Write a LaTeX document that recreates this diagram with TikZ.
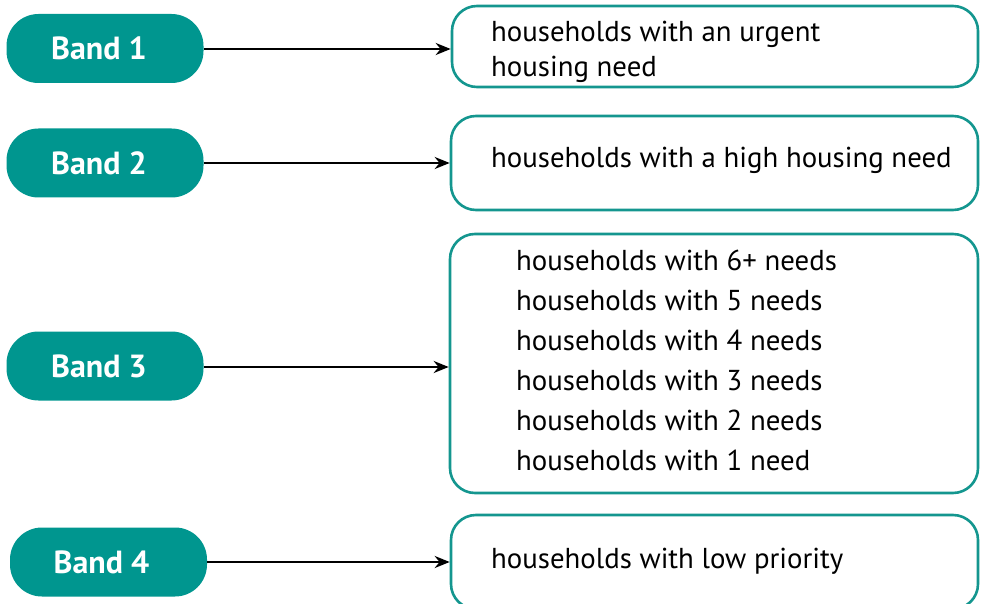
\documentclass[tikz,border=0pt]{standalone}
\usepackage{fontspec}
\setmainfont{PT Sans}
\usetikzlibrary{arrows.meta}
\definecolor{teal1}{RGB}{0,150,143}
\definecolor{teal2}{RGB}{20,150,143}
\tikzset{
  band/.style={fill=teal1, draw=none, rounded corners=32pt, minimum width=197pt, minimum height=69pt, inner sep=0pt, text=white, font=\fontsize{32}{36}\selectfont\bfseries, text depth=0pt, text height=23pt},
  box/.style={draw=teal2, line width=2.6pt, rounded corners=25pt, inner sep=0pt},
  txt/.style={anchor=base west, inner sep=0pt, font=\fontsize{28.8}{32}\selectfont},
  conn/.style={line width=2.4pt, -{Stealth[length=15pt,width=12pt]}}
}
\begin{document}
\begin{tikzpicture}[x=1pt,y=-1pt]
\useasboundingbox (0,0) rectangle (982,604);
% left pills
\node[band] (b1) at (105,48.5) {\hspace*{-12pt}Band 1};
\node[band] (b2) at (105,163) {\hspace*{-12pt}Band 2};
\node[band] (b3) at (105,366) {\hspace*{-12pt}Band 3};
\node[band] (b4) at (108.5,562) {\hspace*{-14pt}Band 4};
% right boxes
\node[box, minimum width=526pt, minimum height=81pt] (r1) at (715,46.5) {};
\node[box, minimum width=527pt, minimum height=94pt] (r2) at (714.5,163) {};
\node[box, minimum width=528pt, minimum height=259pt] (r3) at (714,363.5) {};
\node[box, minimum width=527pt, minimum height=94pt] (r4) at (714.5,562) {};
% texts
\node[txt] (t1a) at (491,42) {households with an urgent};
\node[txt] (t1b) at (491,77) {housing need};
\node[txt] (t2) at (491,168) {households with a high housing need};
\node[txt] (t3a) at (516,270) {households with 6+ needs};
\node[txt] (t3b) at (516,310) {households with 5 needs};
\node[txt] (t3c) at (516,350) {households with 4 needs};
\node[txt] (t3d) at (516,390) {households with 3 needs};
\node[txt] (t3e) at (516,430) {households with 2 needs};
\node[txt] (t3f) at (516,470) {households with 1 need};
\node[txt] (t4) at (491,568) {households with low priority};
% connectors
\draw[conn] (b1.east |- 0,49) -- (r1.west |- 0,49);
\draw[conn] (b2.east) -- (r2.west);
\draw[conn] (b3.east |- 0,367) -- (r3.west |- 0,367);
\draw[conn] (b4.east) -- (r4.west);
\end{tikzpicture}
\end{document}
